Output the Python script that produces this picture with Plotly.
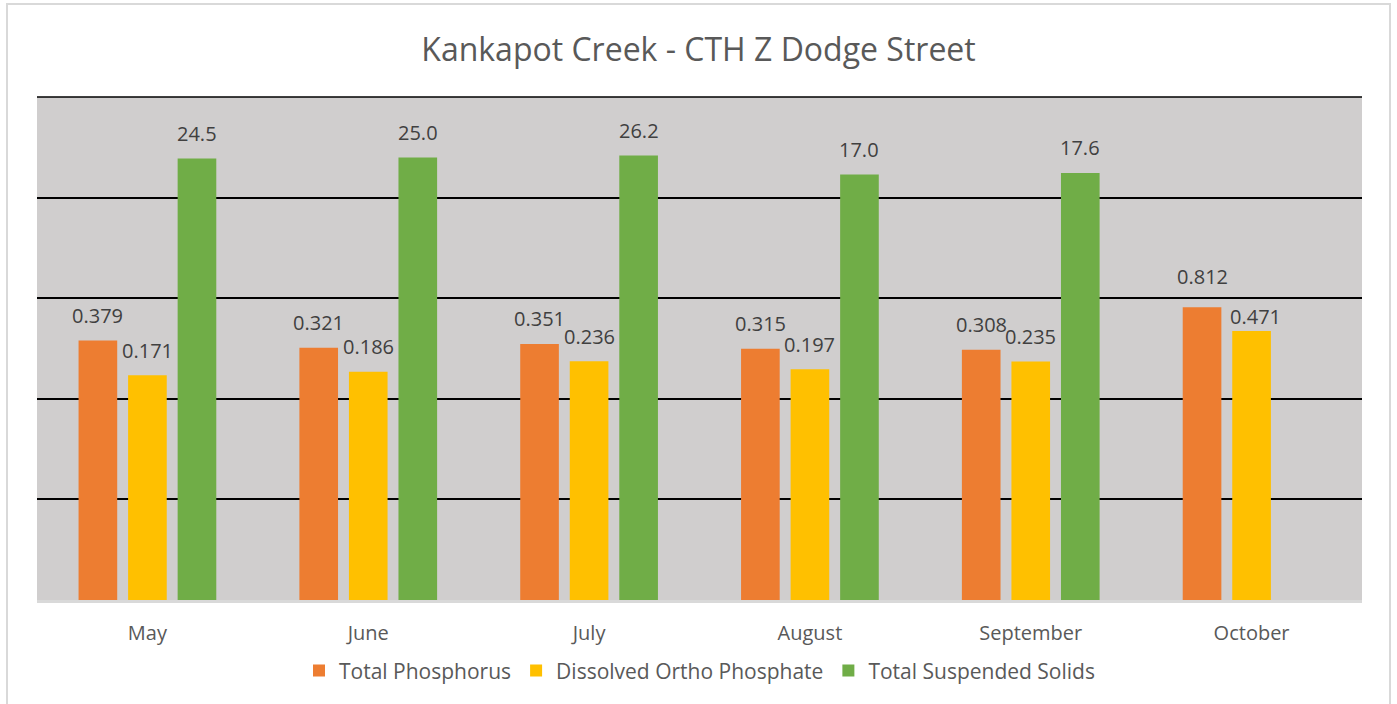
import math
import plotly.graph_objects as go

# data
months = ["May", "June", "July", "August", "September", "October"]
total_phosphorus = [0.379, 0.321, 0.351, 0.315, 0.308, 0.812]
dissolved_ortho = [0.171, 0.186, 0.236, 0.197, 0.235, 0.471]
suspended_solids = [24.5, 25.0, 26.2, 17.0, 17.6, None]

fnt = "Open Sans, Lato, sans-serif"

series = [
    ("Total Phosphorus", total_phosphorus, "#ED7D31", "{:.3f}", -49.5),
    ("Dissolved Ortho Phosphate", dissolved_ortho, "#FFC000", "{:.3f}", 0),
    ("Total Suspended Solids", suspended_solids, "#70AD47", "{:.1f}", 49.5),
]

fig = go.Figure()
for name, vals, col, fmt, dx in series:
    fig.add_trace(go.Bar(x=months, y=vals, name=name, marker_color=col,
                         marker_line_width=0))
    # data labels a bit above each bar, like excel does
    # (annotation y on a log axis is given as log10)
    for m, v in zip(months, vals):
        if v is None:
            continue
        ys = 25
        xs = dx
        if m == "October":  # excel nudged these to avoid overlap
            ys = 31 if dx < 0 else 15
            xs = dx + (0 if dx < 0 else 4)
        fig.add_annotation(x=m, y=math.log10(v), text=fmt.format(v), showarrow=False,
                           xshift=xs, yshift=ys, yanchor="middle",
                           font=dict(size=20, color="#404040", family=fnt))

fig.update_layout(
    width=1397, height=704,
    margin=dict(l=37, r=35, t=97, b=104),
    paper_bgcolor="white", plot_bgcolor="#D0CECE",
    font=dict(family=fnt, size=20, color="#595959"),
    title=dict(text="Kankapot Creek - CTH Z Dodge Street", x=0.5, xanchor="center",
               y=1 - 50 / 704, yanchor="middle", yref="container",
               font=dict(size=32, color="#595959", family=fnt)),
    barmode="group", bargap=0.327, bargroupgap=0.22,
    showlegend=True,
    legend=dict(orientation="h", x=0.5, xanchor="center", y=-0.141, yanchor="middle",
                font=dict(size=21, color="#595959"), itemwidth=30,
                traceorder="normal"),
)

fig.update_yaxes(type="log", range=[-3, 2], dtick=1, showticklabels=False,
                 showgrid=True, gridcolor="black", gridwidth=1.5,
                 zeroline=False, showline=False, ticks="")
fig.update_xaxes(showgrid=False, showline=True, linecolor="#D9D9D9", linewidth=3,
                 ticks="", ticklabelstandoff=13,
                 tickfont=dict(size=20, color="#595959"))

# top gridline (plotly drops the one sitting on the plot edge)
fig.add_shape(type="line", xref="paper", yref="paper", x0=0, x1=1, y0=1, y1=1,
              line=dict(color="black", width=1.5))

# outer chart border
fig.add_shape(type="rect", xref="paper", yref="paper",
              x0=(7 - 37) / 1325, x1=(1390 - 37) / 1325,
              y0=(600 - 710) / 503, y1=(600 - 4) / 503,
              line=dict(color="#D9D9D9", width=2), fillcolor="rgba(0,0,0,0)", layer="below")

fig.write_html("out.html", config={"displayModeBar": False},
               post_script="document.body.style.margin='0';")
